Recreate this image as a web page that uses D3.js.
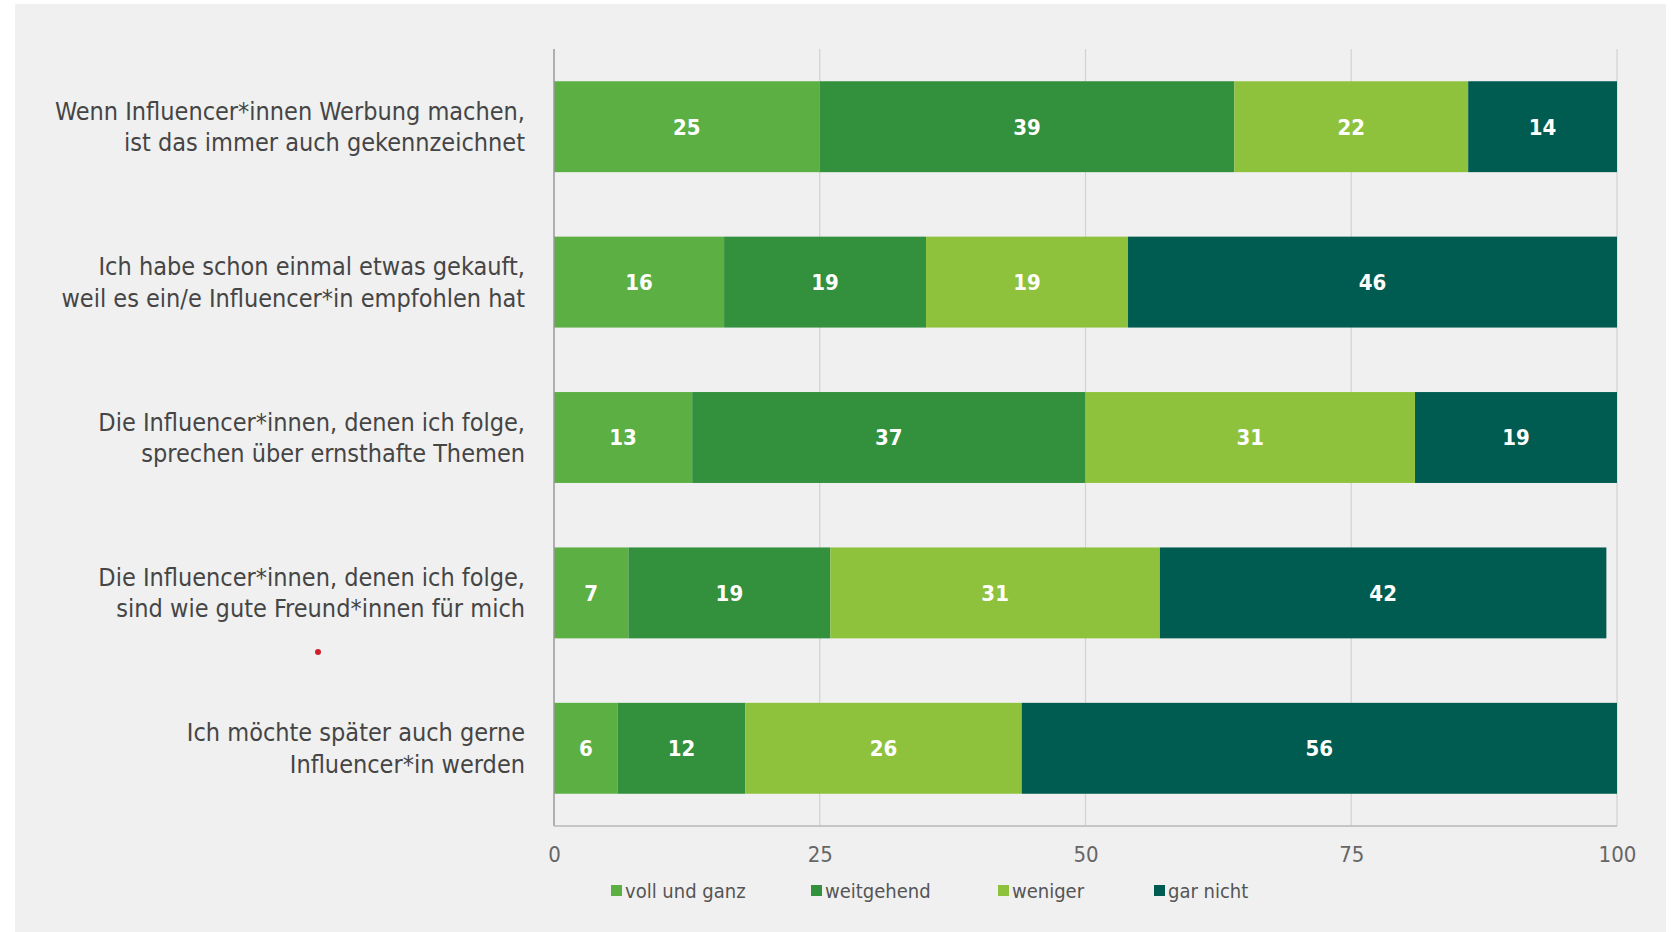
<!DOCTYPE html>
<html lang="de">
<head>
<meta charset="utf-8">
<script src="https://cdn.jsdelivr.net/npm/d3@7/dist/d3.min.js"></script>
<style>
  html, body { margin: 0; padding: 0; background: #ffffff; }
  svg { display: block; }
  text { font-family: "DejaVu Sans Condensed", "Liberation Sans Narrow", "DejaVu Sans", sans-serif; }
</style>
</head>
<body>
<div id="chart"></div>
<script>
// Survey statements (two lines each)
const statements = [
  ["Wenn Influencer*innen Werbung machen,", "ist das immer auch gekennzeichnet"],
  ["Ich habe schon einmal etwas gekauft,", "weil es ein/e Influencer*in empfohlen hat"],
  ["Die Influencer*innen, denen ich folge,", "sprechen über ernsthafte Themen"],
  ["Die Influencer*innen, denen ich folge,", "sind wie gute Freund*innen für mich"],
  ["Ich möchte später auch gerne", "Influencer*in werden"]
];

// Answer categories
const answers = ["voll und ganz", "weitgehend", "weniger", "gar nicht"];

// Shares in percent per statement
const vollUndGanz = [25, 16, 13, 7, 6];
const weitgehend  = [39, 19, 37, 19, 12];
const weniger     = [22, 19, 31, 31, 26];
const garNicht    = [14, 46, 19, 42, 56];

// Axis ticks
const tickValues = [0, 25, 50, 75, 100];

const colors = ["#5caf43", "#33903c", "#8fc23c", "#005c50"];

const W = 1680, H = 932;
const svg = d3.select("#chart").append("svg")
  .attr("width", W).attr("height", H);

// panel background
svg.append("rect")
  .attr("x", 15).attr("y", 4)
  .attr("width", 1651).attr("height", H - 4)
  .attr("fill", "#f0f0f0");

const x = d3.scaleLinear().domain([0, 100]).range([554, 1617]);
const y = d3.scaleBand()
  .domain(d3.range(statements.length))
  .range([49, 826])
  .paddingInner(0.415)
  .paddingOuter(0.2075);

const color = d3.scaleOrdinal().domain(answers).range(colors);

// rows for the stack
const rows = statements.map((s, i) => ({
  idx: i,
  "voll und ganz": vollUndGanz[i],
  "weitgehend": weitgehend[i],
  "weniger": weniger[i],
  "gar nicht": garNicht[i]
}));
const stacked = d3.stack().keys(answers)(rows);

// vertical gridlines
svg.append("g")
  .selectAll("line")
  .data(tickValues.slice(1))
  .join("line")
  .attr("x1", d => x(d)).attr("x2", d => x(d))
  .attr("y1", 49).attr("y2", 826)
  .attr("stroke", "#d2d2d2")
  .attr("stroke-width", 1.2);

// bar segments
const layers = svg.append("g")
  .selectAll("g")
  .data(stacked)
  .join("g")
  .attr("fill", d => color(d.key));

layers.selectAll("rect")
  .data(d => d)
  .join("rect")
  .attr("x", d => x(d[0]))
  .attr("width", d => x(d[1]) - x(d[0]))
  .attr("y", d => y(d.data.idx))
  .attr("height", y.bandwidth());

// value labels
const labels = svg.append("g");
stacked.forEach(layer => {
  labels.selectAll(null)
    .data(layer)
    .join("text")
    .attr("x", d => (x(d[0]) + x(d[1])) / 2)
    .attr("y", d => y(d.data.idx) + y.bandwidth() / 2)
    .attr("dy", "0.36em")
    .attr("text-anchor", "middle")
    .attr("fill", "#ffffff")
    .attr("font-size", 22)
    .attr("font-weight", "bold")
    .text(d => d[1] - d[0]);
});

// axis lines (left and bottom)
svg.append("line")
  .attr("x1", x(0)).attr("x2", x(0))
  .attr("y1", 49).attr("y2", 826)
  .attr("stroke", "#9a9a9a").attr("stroke-width", 1.5);
svg.append("line")
  .attr("x1", x(0)).attr("x2", x(100))
  .attr("y1", 826).attr("y2", 826)
  .attr("stroke", "#b8b8b8").attr("stroke-width", 1.5);

// x axis tick labels
const xAxis = d3.axisBottom(x).tickValues(tickValues).tickSize(0).tickPadding(0);
const gx = svg.append("g").attr("transform", "translate(0,846)").call(xAxis);
gx.select(".domain").remove();
gx.selectAll("text")
  .attr("font-size", 22)
  .attr("fill", "#666666")
  .attr("dy", "0.71em")
  .style("font-family", "'DejaVu Sans Condensed', 'Liberation Sans Narrow', sans-serif");

// statement labels
const cat = svg.append("g");
statements.forEach((lines, i) => {
  const cy = y(i) + y.bandwidth() / 2;
  const t = cat.append("text")
    .attr("x", 525)
    .attr("y", cy)
    .attr("text-anchor", "end")
    .attr("font-size", 25)
    .attr("fill", "#454545");
  lines.forEach((ln, j) => {
    t.append("tspan")
      .attr("x", 525)
      .attr("y", cy + (j === 0 ? -16 : 15.5))
      .attr("dy", "0.36em")
      .text(ln);
  });
});

// legend
const legendX = [611, 811, 998, 1154];
const lg = svg.append("g").attr("transform", "translate(0,891)");
answers.forEach((a, i) => {
  lg.append("rect")
    .attr("x", legendX[i]).attr("y", -6)
    .attr("width", 11).attr("height", 11)
    .attr("fill", color(a));
  lg.append("text")
    .attr("x", legendX[i] + 14).attr("y", 0)
    .attr("dy", "0.36em")
    .attr("font-size", 20)
    .attr("fill", "#555555")
    .text(a);
});

// small red marker left of the chart
svg.append("circle")
  .attr("cx", 318).attr("cy", 652).attr("r", 3)
  .attr("fill", "#d0202a");
</script>
</body>
</html>
